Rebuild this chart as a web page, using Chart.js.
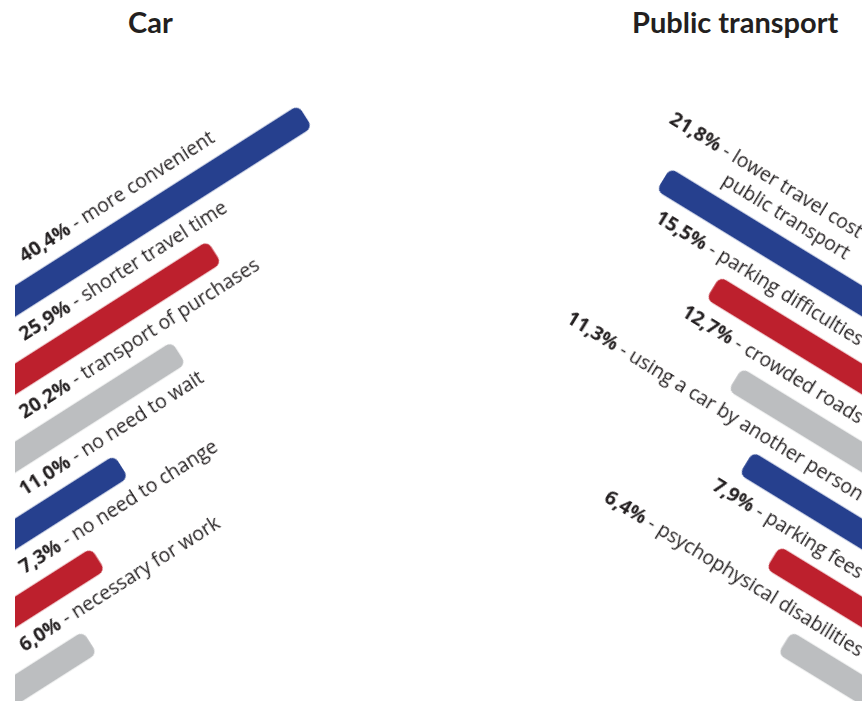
<!DOCTYPE html>
<html>
<head>
<meta charset="utf-8">
<script src="https://cdn.jsdelivr.net/npm/chart.js@4.4.1/dist/chart.umd.min.js"></script>
<style>
  html, body { margin: 0; padding: 0; background: #fff; }
  #stage { position: relative; width: 865px; height: 701px; overflow: hidden; background: #fff; }
  .title { position: absolute; top: 4px; font: 700 29px "Lato", sans-serif; color: #231f20; white-space: nowrap; }
  .panel { position: absolute; top: 0; height: 701px; overflow: hidden; }
  .panel canvas { position: absolute; }
</style>
</head>
<body>
<div id="stage">
  <div class="title" style="left:128px">Car</div>
  <div class="title" style="left:632px">Public transport</div>
  <div class="panel" id="carPanel" style="left:15px;width:420px"></div>
  <div class="panel" id="transitPanel" style="left:435px;width:427px"></div>
</div>
<script>
// reasons for choosing each mode, share of answers in %
const carReasons = ['more convenient', 'shorter travel time', 'transport of purchases',
                    'no need to wait', 'no need to change', 'necessary for work'];
const carShares = [40.4, 25.9, 20.2, 11.0, 7.3, 6.0];

const transitReasons = [['lower travel cost', 'public transport'], 'parking difficulties', 'crowded roads',
                        'using a car by another person', 'parking fees', 'psychophysical disabilities'];
const transitShares = [21.8, 15.5, 12.7, 11.3, 7.9, 6.4];

const barColors = ['#26408e', '#bd202d', '#bcbec0'];

// vertical position of each bar where it meets the panel edge
const rowTop = 301;
const rowStep = 77.8;
const canvasHeight = 150;

const panels = [
  { id: 'carPanel', reasons: carReasons, shares: carShares, side: 'left',
    angle: -32.5, min: -12, max: 50, width: 460, clipValue: -5.9, gap: 28, lift: 27 },
  { id: 'transitPanel', reasons: transitReasons, shares: transitShares, side: 'right',
    angle: 31.5, min: -8, max: 40, width: 444, clipValue: -3.35, gap: 20, lift: 26 }
];

const FONT_SIZE = 19.5;
const boldFont = `700 ${FONT_SIZE}px "Open Sans", sans-serif`;
const textFont = `400 ${FONT_SIZE}px "Open Sans", sans-serif`;

// writes "xx,x% - reason" above the bar, reading along the bar
const reasonLabel = {
  id: 'reasonLabel',
  afterDatasetsDraw(chart, args, opts) {
    const ctx = chart.ctx;
    const bar = chart.getDatasetMeta(0).data[0];
    const x0 = chart.scales.x.getPixelForValue(opts.clipValue);
    const lines = [].concat(opts.text);
    const pct = chart.data.datasets[0].data[0].toFixed(1).replace('.', ',') + '%';

    ctx.save();
    ctx.fillStyle = '#231f20';
    ctx.textBaseline = 'alphabetic';
    ctx.textAlign = 'left';
    lines.forEach((line, i) => {
      const y = bar.y - opts.lift - (lines.length - 1 - i) * 25;
      const head = i === 0 ? pct : '';
      const tail = i === 0 ? ' - ' + line : line;
      ctx.font = boldFont;
      const headW = ctx.measureText(head).width;
      ctx.font = textFont;
      const tailW = ctx.measureText(tail).width;
      let x;
      if (opts.side === 'left') {
        x = x0 + opts.gap;
      } else {
        x = x0 - opts.gap - (lines.length - 1) * 16 - headW - tailW;
      }
      ctx.font = boldFont;
      ctx.fillText(head, x, y);
      ctx.font = textFont;
      ctx.fillText(tail, x + headW, y);
    });
    ctx.restore();
  }
};

panels.forEach(p => {
  const holder = document.getElementById(p.id);
  const anchorX = p.side === 'left' ? 0 : holder.clientWidth;

  p.shares.forEach((share, k) => {
    const canvas = document.createElement('canvas');
    canvas.width = p.width;
    canvas.height = canvasHeight;
    canvas.style.width = p.width + 'px';
    canvas.style.height = canvasHeight + 'px';
    holder.appendChild(canvas);

    const chart = new Chart(canvas, {
      type: 'bar',
      data: {
        labels: [''],
        datasets: [{
          data: [share],
          base: p.min,
          backgroundColor: barColors[k % 3],
          barThickness: 26,
          borderRadius: 7,
          borderSkipped: false
        }]
      },
      options: {
        indexAxis: 'y',
        responsive: false,
        animation: false,
        events: [],
        layout: { padding: 0 },
        scales: {
          x: { display: false, min: p.min, max: p.max, reverse: p.side === 'right' },
          y: { display: false }
        },
        plugins: {
          legend: { display: false },
          tooltip: { enabled: false },
          reasonLabel: { text: p.reasons[k], clipValue: p.clipValue, side: p.side, gap: p.gap, lift: p.lift }
        }
      },
      plugins: [reasonLabel]
    });

    // pivot the canvas around the point of the bar that sits on the panel edge
    const x0 = chart.scales.x.getPixelForValue(p.clipValue);
    const cy = chart.getDatasetMeta(0).data[0].y;
    canvas.style.left = (anchorX - x0) + 'px';
    canvas.style.top = (rowTop + k * rowStep - cy) + 'px';
    canvas.style.transformOrigin = `${x0}px ${cy}px`;
    canvas.style.transform = `rotate(${p.angle}deg)`;
  });
});
</script>
</body>
</html>
